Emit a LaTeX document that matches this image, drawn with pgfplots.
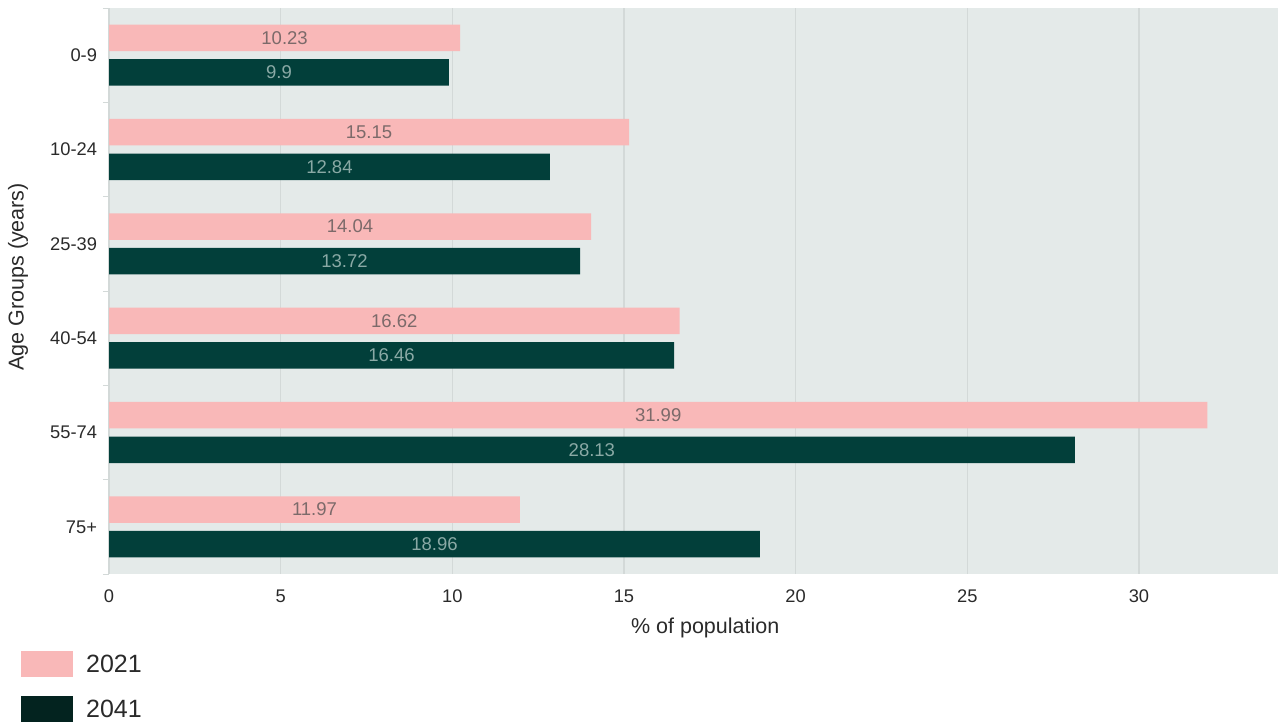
\documentclass[border=0pt]{standalone}
\usepackage{fontspec}
\setmainfont{Liberation Sans}
\usepackage{pgfplots}
\usepackage{pgfplotstable}
\pgfplotsset{compat=1.18}

\definecolor{pinkc}{HTML}{F9B8B8}
\definecolor{darkc}{HTML}{023F3A}
\definecolor{darkleg}{HTML}{03231F}
\definecolor{bgc}{HTML}{E4EAE9}
\definecolor{gridc}{HTML}{D3D9D8}
\definecolor{pinklab}{HTML}{7C6A6A}
\definecolor{darklab}{HTML}{8AA9A5}
\definecolor{txt}{HTML}{2A2A2A}

\pgfplotstableread{
y v21 v41
0 10.23 9.9
1 15.15 12.84
2 14.04 13.72
3 16.62 16.46
4 31.99 28.13
5 11.97 18.96
}\agedata

\begin{document}
\begin{tikzpicture}
\useasboundingbox (0,0) rectangle (1279pt,725pt);
\begin{axis}[
    at={(109pt,151pt)}, anchor=south west,
    scale only axis,
    width=1169pt, height=566pt,
    xmin=0, xmax=34.05,
    ymin=-0.5, ymax=5.5,
    y dir=reverse,
    axis background/.style={fill=bgc},
    axis line style={draw=none},
    xtick={0,5,...,30},
    ytick={0,...,5},
    yticklabels={0-9,10-24,25-39,40-54,55-74,75+},
    minor ytick={-0.5,0.5,...,5.5},
    ytick pos=left,
    tick align=outside,
    major tick length=0pt,
    minor tick length=6pt,
    minor tick style={gridc, line width=1pt},
    xmajorgrids,
    major grid style={gridc, line width=1.5pt},
    tick label style={font=\fontsize{18.3}{21}\selectfont, text=txt},
    /pgf/number format/assume math mode=true,
    xticklabel style={yshift=-12pt},
    yticklabel style={xshift=-8.5pt},
    xlabel={\% of population},
    ylabel={Age Groups (years)},
    label style={font=\fontsize{21.5}{24}\selectfont, text=txt},
    xlabel style={at={(axis description cs:0.51,-0.0954)}, anchor=center},
    ylabel style={at={(axis description cs:-0.0778,0.525)}, anchor=center},
    legend image code/.code={\fill[#1,draw=none] (0pt,-13pt) rectangle (52pt,13pt);},
    legend style={at={(axis description cs:-0.0753,-0.136)}, anchor=north west,
        draw=none, fill=none, inner sep=0pt, row sep=19pt,
        font=\fontsize{25}{28}\selectfont, text=txt,
        nodes={inner sep=0pt},
        /tikz/every odd column/.append style={column sep=13pt}},
    legend cell align=left,
]
\addplot[xbar, bar width=0.281, bar shift=-0.183, fill=pinkc, draw=none, forget plot]
    table[x=v21, y=y] {\agedata};
\addplot[xbar, bar width=0.281, bar shift=0.183, fill=darkc, draw=none, forget plot]
    table[x=v41, y=y] {\agedata};

% value labels centred in each bar
\addplot[draw=none, mark=none, forget plot, point meta=explicit symbolic,
    nodes near coords, nodes near coords align={center},
    every node near coord/.append style={anchor=center, text=pinklab,
        font=\fontsize{18.5}{20}\selectfont}]
    table[x expr=\thisrow{v21}/2, y expr=\thisrow{y}-0.183, meta=v21] {\agedata};
\addplot[draw=none, mark=none, forget plot, point meta=explicit symbolic,
    nodes near coords, nodes near coords align={center},
    every node near coord/.append style={anchor=center, text=darklab,
        font=\fontsize{18.5}{20}\selectfont}]
    table[x expr=\thisrow{v41}/2, y expr=\thisrow{y}+0.183, meta=v41] {\agedata};

\addlegendimage{fill=pinkc}
\addlegendentry{2021}
\addlegendimage{fill=darkleg}
\addlegendentry{2041}
\end{axis}
\end{tikzpicture}
\end{document}
